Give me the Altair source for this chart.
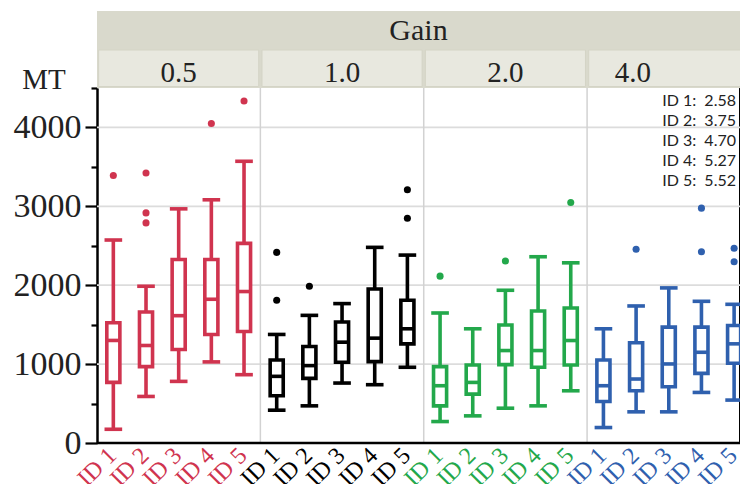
import altair as alt
import pandas as pd

# ---------------- data ----------------
gains = ["0.5", "1.0", "2.0", "4.0"]
ids = ["ID 1", "ID 2", "ID 3", "ID 4", "ID 5"]
panel_colors = ["#d0344f", "#000000", "#23a84b", "#2f60ae"]

lower = [[174, 590, 781, 1028, 866],
         [416, 471, 760, 739, 960],
         [272, 344, 441, 471, 662],
         [196, 395, 395, 641, 544]]
q1 = [[768, 968, 1185, 1376, 1414],
      [599, 819, 1023, 1032, 1257],
      [471, 620, 994, 960, 989],
      [527, 662, 713, 883, 1010]]
median = [[1300, 1236, 1614, 1822, 1920],
          [845, 981, 1278, 1329, 1448],
          [726, 768, 1172, 1172, 1299],
          [726, 811, 1002, 1150, 1257]]
q3 = [[1525, 1660, 2327, 2327, 2531],
      [1053, 1223, 1533, 1953, 1809],
      [968, 989, 1495, 1674, 1712],
      [1053, 1270, 1469, 1469, 1490]]
upper = [[2573, 1987, 2968, 3083, 3571],
         [1376, 1618, 1767, 2480, 2382],
         [1648, 1448, 1936, 2361, 2284],
         [1448, 1737, 1966, 1796, 1758]]
outliers = [[[3390], [3423, 2917, 2790], [], [4051], [4335]],
            [[2416, 1809], [1987], [], [], [3210, 2849]],
            [[2115], [], [2306], [], [3049]],
            [[], [2455], [], [2977, 2425], [2468, 2297]]]

speed_ids = ["ID 1", "ID 2", "ID 3", "ID 4", "ID 5"]
speeds = ["2.58", "3.75", "4.70", "5.27", "5.52"]

y_ticks = [0, 500, 1000, 1500, 2000, 2500, 3000, 3500, 4000, 4500]
grid_values = [1000, 2000, 3000, 4000]

# ---------------- layout ----------------
W, H = 643, 355
SERIF = "Liberation Serif"
BOX_HALF = 0.2
CAP_HALF = 0.27
SW = 3.6

rows, out_rows = [], []
for p, g in enumerate(gains):
    for i, ident in enumerate(ids):
        pos = p * 5 + i + 0.5
        rows.append(dict(gain=g, id=ident, pos=pos,
                         bx0=pos - BOX_HALF, bx1=pos + BOX_HALF,
                         cx0=pos - CAP_HALF, cx1=pos + CAP_HALF,
                         labx=pos - 0.02,
                         lower=lower[p][i], q1=q1[p][i], median=median[p][i],
                         q3=q3[p][i], upper=upper[p][i]))
        for v in outliers[p][i]:
            out_rows.append(dict(gain=g, id=ident, pos=pos, value=v))
box = pd.DataFrame(rows)
outs = pd.DataFrame(out_rows)

panels = pd.DataFrame(dict(
    gain=gains,
    x0=[p * 5 + 0.05 for p in range(4)],
    x1=[p * 5 + 4.95 for p in range(4)],
    labx=[p * 5 + 2.5 if p < 3 else p * 5 + 1.4 for p in range(4)],
))
band = pd.DataFrame(dict(x0=[0.0], x1=[20.0]))
seps = pd.DataFrame(dict(sep=[5, 10, 15]))
grid = pd.DataFrame(dict(v=grid_values))
ann = pd.DataFrame(dict(line=[f"{a}:\u00a0\u00a0{b}" for a, b in zip(speed_ids, speeds)],
                        k=list(range(len(speeds)))))

xs = alt.Scale(domain=[0, 19.68], nice=False, zero=False)
ys = alt.Scale(domain=[0, 4500], nice=False)
col = alt.Scale(domain=gains, range=panel_colors)

yaxis = alt.Axis(
    values=y_ticks,
    labelExpr="datum.value % 1000 === 0 ? '' + datum.value : ''",
    title=None, grid=False,
    domainColor="black", domainWidth=2.5,
    tickColor="black", tickWidth=2.2,
    tickSize={"condition": {"test": "datum.value % 1000 === 0", "value": 12}, "value": 6},
    labelFont=SERIF, labelFontSize=34, labelColor="#222", labelPadding=4,
    labelBaseline="middle",
)


def X(f):
    return alt.X(f, scale=xs, axis=None)


def Y(f):
    return alt.Y(f, scale=ys, axis=yaxis)


hdr_band = alt.Chart(band).mark_rect(color="#d9d9cc").encode(
    x=X("x0:Q"), x2="x1:Q", y=alt.value(-77), y2=alt.value(0))
hdr_boxes = alt.Chart(panels).mark_rect(color="#e8e8df", stroke="#d4d4c6", strokeWidth=1).encode(
    x=X("x0:Q"), x2="x1:Q", y=alt.value(-38), y2=alt.value(-1.5))
hdr_text = alt.Chart(panels).mark_text(font=SERIF, fontSize=29, color="#222",
                                       baseline="alphabetic", align="center").encode(
    x=X("labx:Q"), y=alt.value(-6.5), text="gain:N")
gain_text = alt.Chart(band).mark_text(font=SERIF, fontSize=30, color="#222",
                                      baseline="alphabetic", align="center").encode(
    x=alt.value(W / 2), y=alt.value(-48), text=alt.value("Gain"))
mt_text = alt.Chart(band).mark_text(font=SERIF, fontSize=29, color="#222",
                                    baseline="alphabetic", align="center").encode(
    x=alt.value(-53), y=alt.value(1), text=alt.value("MT"))

grid_l = alt.Chart(grid).mark_rule(color="#dcdcdc", strokeWidth=1.8).encode(
    y=Y("v:Q"), x=alt.value(0), x2=alt.value(W))
sep_l = alt.Chart(seps).mark_rule(color="#d2d2d2", strokeWidth=1.5).encode(
    x=X("sep:Q"), y=alt.value(0), y2=alt.value(H))

whisk = alt.Chart(box).mark_rule(strokeWidth=SW, clip=True).encode(
    x=X("pos:Q"), y=Y("lower:Q"), y2="upper:Q",
    color=alt.Color("gain:N", scale=col, legend=None))
boxes = alt.Chart(box).mark_rect(fill="white", strokeWidth=SW, clip=True).encode(
    x=X("bx0:Q"), x2="bx1:Q", y=Y("q1:Q"), y2="q3:Q",
    stroke=alt.Stroke("gain:N", scale=col, legend=None))
med = alt.Chart(box).mark_rule(strokeWidth=SW, clip=True).encode(
    x=X("bx0:Q"), x2="bx1:Q", y=Y("median:Q"),
    color=alt.Color("gain:N", scale=col, legend=None))
cap_hi = alt.Chart(box).mark_rule(strokeWidth=SW, clip=True).encode(
    x=X("cx0:Q"), x2="cx1:Q", y=Y("upper:Q"),
    color=alt.Color("gain:N", scale=col, legend=None))
cap_lo = alt.Chart(box).mark_rule(strokeWidth=SW, clip=True).encode(
    x=X("cx0:Q"), x2="cx1:Q", y=Y("lower:Q"),
    color=alt.Color("gain:N", scale=col, legend=None))
pts = alt.Chart(outs).mark_circle(size=50, opacity=1, clip=True).encode(
    x=X("pos:Q"), y=Y("value:Q"),
    color=alt.Color("gain:N", scale=col, legend=None))

xlab = alt.Chart(box).mark_text(font=SERIF, fontSize=24, angle=315, align="right",
                                baseline="middle").encode(
    x=X("labx:Q"), y=alt.value(H + 9), text="id:N",
    color=alt.Color("gain:N", scale=col, legend=None))

bottom = alt.Chart(band).mark_rule(color="black", strokeWidth=2.5).encode(
    x=alt.value(0), x2=alt.value(W), y=alt.value(H))

ann_l = alt.Chart(ann).mark_text(font="Lato", fontSize=16, color="#222",
                                 align="right", baseline="middle").encode(
    x=alt.value(W - 4),
    y=alt.Y("k:Q", scale=alt.Scale(domain=[0, len(speeds) - 1], range=[13, 93]), axis=None),
    text="line:N")

chart = alt.layer(
    hdr_band, hdr_boxes, hdr_text, gain_text, mt_text,
    grid_l, sep_l, whisk, boxes, med, cap_hi, cap_lo, pts, xlab, bottom, ann_l
).resolve_scale(y="independent").properties(
    width=W, height=H,
    autosize=alt.AutoSizeParams(type="none"),
    padding={"left": 97, "top": 88, "right": 0, "bottom": 41},
    background="white",
).configure_view(stroke=None)

chart.save("out.html", embed_options={"renderer": "svg", "actions": False})
